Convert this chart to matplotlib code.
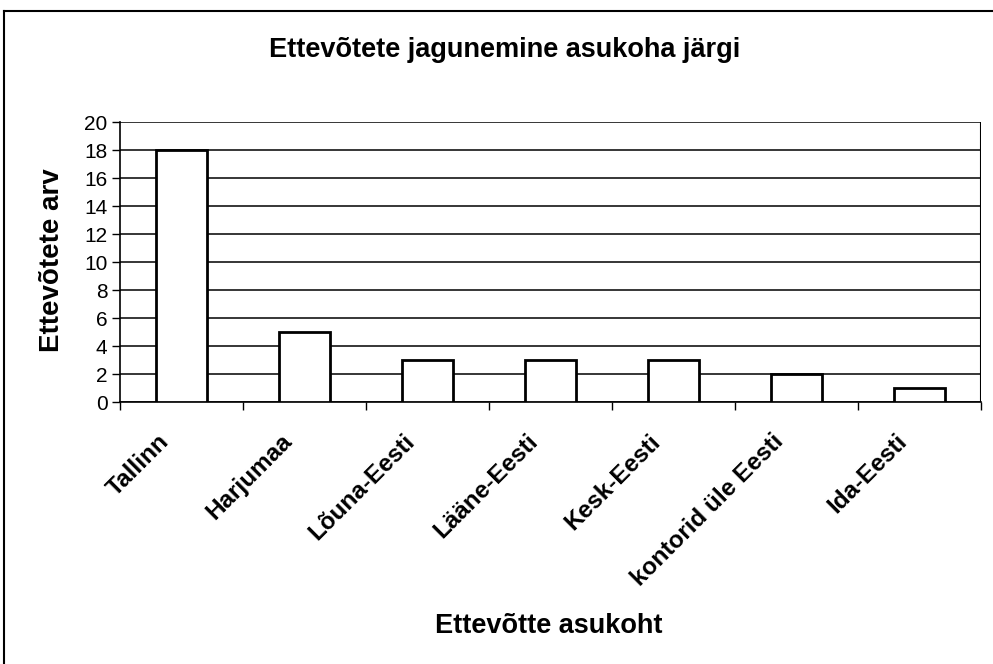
import matplotlib
matplotlib.use("Agg")
import matplotlib.pyplot as plt
from matplotlib.lines import Line2D

categories = ["Tallinn", "Harjumaa", "Lõuna-Eesti", "Lääne-Eesti", "Kesk-Eesti",
              "kontorid üle Eesti", "Ida-Eesti"]
values = [18, 5, 3, 3, 3, 2, 1]
yticks = list(range(0, 21, 2))

plt.rcParams['font.family'] = ['Liberation Sans', 'DejaVu Sans']

W, H = 993, 664
fig = plt.figure(figsize=(W / 100, H / 100), dpi=100)
ax = fig.add_axes([120/W, 1-402/H, (981-120)/W, (402-122)/H])

x = list(range(len(categories)))
ax.bar(x, values, width=0.41, color='white', edgecolor='black', linewidth=2, zorder=3)

ax.set_xlim(-0.5, len(categories) - 0.5)
ax.set_ylim(0, 20)
ax.set_yticks(yticks)
ax.set_yticklabels([str(v) for v in yticks], fontsize=15)
ax.yaxis.grid(True, color='black', linewidth=1.1, zorder=0)
ax.set_axisbelow(True)

ax.set_xticks([i - 0.5 for i in range(len(categories) + 1)])
ax.set_xticklabels([])
ax.tick_params(axis='x', length=6, width=1, direction='out', color='black')
ax.tick_params(axis='y', length=6, width=1, direction='out', color='black', pad=3)

for i, c in enumerate(categories):
    ax.text(i - 0.2, -2.0, c, rotation=45, ha='right', va='top', fontsize=17.5,
            fontweight='bold', rotation_mode='anchor')

for s in ['top', 'right']:
    ax.spines[s].set_visible(False)
for s in ['left', 'bottom']:
    ax.spines[s].set_linewidth(1.2)
ax.axvline(len(categories) - 0.5, color='black', linewidth=1.5)

fig.text(52/W, 1 - 260/H, "Ettevõtete arv", rotation=90, ha='center', va='center',
         fontsize=20, fontweight='bold')
fig.text(549/W, 1 - 633/H, "Ettevõtte asukoht", ha='center', va='baseline',
         fontsize=19.5, fontweight='bold')
fig.text(505/W, 1 - 57/H, "Ettevõtete jagunemine asukoha järgi", ha='center',
         va='baseline', fontsize=19.5, fontweight='bold')

fig.add_artist(Line2D([4/W, 1], [1 - 11/H, 1 - 11/H], color='black', linewidth=1.5,
                      transform=fig.transFigure))
fig.add_artist(Line2D([4/W, 4/W], [0, 1 - 11/H], color='black', linewidth=1.5,
                      transform=fig.transFigure))

fig.savefig("out.png", dpi=100)
